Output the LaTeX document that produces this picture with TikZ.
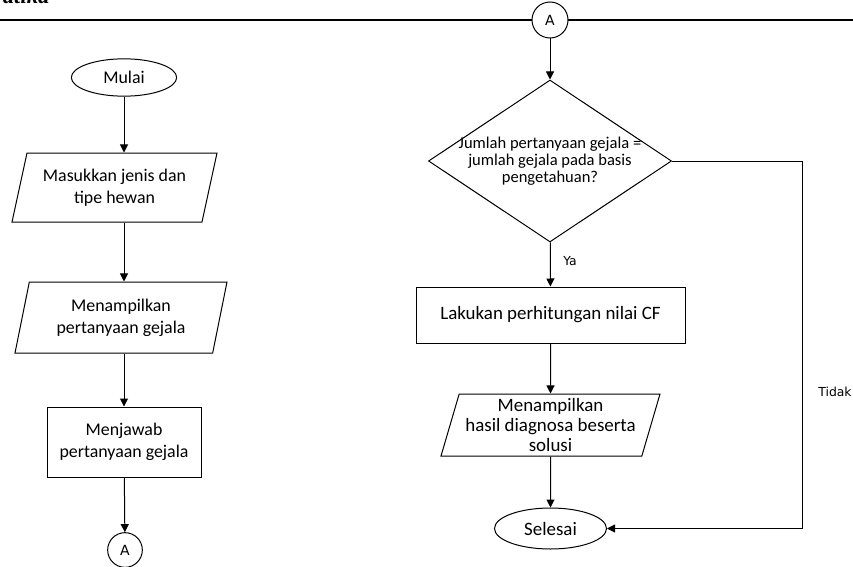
\documentclass[tikz,border=0pt]{standalone}
\usepackage{fontspec}
\setmainfont{Carlito}
\newfontfamily\headfont{Liberation Serif}
\newfontfamily\labelfont{DejaVu Sans}
\usetikzlibrary{arrows.meta,shapes.geometric}

\begin{document}
\begin{tikzpicture}[
  x=0.75pt, y=-0.75pt, line width=0.75pt,
  font=\fontsize{13.4}{16.4}\selectfont,
  term/.style={ellipse, draw, inner sep=0pt},
  io/.style={trapezium, draw, trapezium stretches body, inner sep=0pt, align=center},
  proc/.style={rectangle, draw, inner sep=0pt, align=center},
  dec/.style={diamond, draw, aspect=1.5, inner sep=-10pt, align=center,
              font=\fontsize{12.4}{12.6}\selectfont},
  conn/.style={circle, draw, fill=white, inner sep=0pt,
               font=\fontsize{10.5}{12}\labelfont},
  right col/.style={font=\fontsize{14.2}{14.8}\selectfont},
  ar/.style={-{Triangle[length=6pt,width=6pt]}},
  lbl/.style={font=\fontsize{9.3}{11}\labelfont}]

\useasboundingbox (0,0) rectangle (853,567);

% page header
\node[font=\fontsize{17}{17}\headfont\bfseries\itshape, anchor=base east, inner sep=0pt]
     (judul) at (50,4) {atika};
\coordinate (garisL) at (0,20);
\coordinate (garisR) at (853,20);
\draw[line width=1.6pt] (garisL) -- (garisR);

% left column
\node[term, minimum width=79pt, minimum height=28pt] (mulai) at (124,77.5) {Mulai};
\node[io, trapezium left angle=68, trapezium right angle=112,
      minimum width=153.75pt, minimum height=51.75pt]
     (input) at (114.5,187.5) {Masukkan jenis dan\\tipe hewan};
\node[io, trapezium left angle=69, trapezium right angle=111,
      minimum width=159pt, minimum height=53.25pt]
     (tanya) at (121,317.5) {Menampilkan\\pertanyaan gejala};
\node[proc, minimum width=115.5pt, minimum height=52.5pt]
     (jawab) at (124,442) {Menjawab\\pertanyaan gejala};
\node[conn, minimum size=26pt] (conA1) at (125,550) {A};

\draw[ar] (mulai) -- (mulai |- input.north);
\draw[ar] (input.south -| jawab) -- (jawab |- tanya.north);
\draw[ar] (tanya.south -| jawab) -- (jawab);
\draw[ar] (jawab) -- (conA1);

% right column
\node[conn, minimum size=27pt] (conA2) at (550,20) {A};
\node[dec, minimum width=182.25pt, minimum height=121.5pt]
     (cek) at (550,161) {Jumlah pertanyaan gejala =\\jumlah gejala pada basis\\pengetahuan?};
\node[proc, right col, minimum width=201.75pt, minimum height=42pt]
     (hitung) at (550.5,315) {Lakukan perhitungan nilai CF};
\node[io, right col, trapezium left angle=71, trapezium right angle=109,
      minimum width=164.25pt, minimum height=46.5pt]
     (hasil) at (550.5,425) {Menampilkan\\hasil diagnosa beserta\\solusi};
\node[term, right col, minimum width=84pt, minimum height=30.75pt]
     (selesai) at (550.5,528.5) {Selesai};

\draw[ar] (conA2) -- (cek);
\draw[ar] (cek) -- node[lbl, right=6pt, pos=0.42] (ya) {Ya} (hitung);
\draw[ar] (hitung) -- (hasil);
\draw[ar] (hasil) -- (selesai);

% "Tidak" branch round the right side
\coordinate (sisi) at (802,0);
\draw[ar] (cek.east) -- (cek.east -| sisi) -- (selesai.east -| sisi) -- (selesai.east);
\node[lbl] (tidak) at (835,392) {Tidak};
\end{tikzpicture}
\end{document}
